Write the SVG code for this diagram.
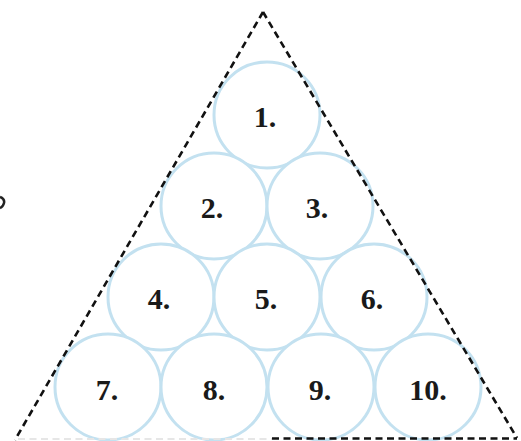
<svg xmlns="http://www.w3.org/2000/svg" width="521" height="441" viewBox="0 0 521 441">
<style>
.c{fill:#fff;stroke:#c3e1f0;stroke-width:3}
.t{font-family:"Liberation Serif","Times New Roman",serif;font-weight:bold;font-size:30px;fill:#1a1a1a;text-anchor:middle}
.d{fill:none;stroke:#111;stroke-width:2.6;stroke-dasharray:7 4.5}
</style>
<rect width="521" height="441" fill="#fff"/>
<g id="n1"><circle class="c" cx="267" cy="115" r="53"/><text class="t" x="265" y="127">1.</text></g>
<g id="n2"><circle class="c" cx="214" cy="206" r="53"/><text class="t" x="212" y="218">2.</text></g>
<g id="n3"><circle class="c" cx="320" cy="206" r="53"/><text class="t" x="317" y="218">3.</text></g>
<g id="n4"><circle class="c" cx="161" cy="297" r="53"/><text class="t" x="159" y="309">4.</text></g>
<g id="n5"><circle class="c" cx="267" cy="297" r="53"/><text class="t" x="266" y="309">5.</text></g>
<g id="n6"><circle class="c" cx="374" cy="297" r="53"/><text class="t" x="372" y="309">6.</text></g>
<g id="n7"><circle class="c" cx="108" cy="387" r="53"/><text class="t" x="107" y="400">7.</text></g>
<g id="n8"><circle class="c" cx="214" cy="387" r="53"/><text class="t" x="214" y="400">8.</text></g>
<g id="n9"><circle class="c" cx="321" cy="387" r="53"/><text class="t" x="320" y="400">9.</text></g>
<g id="n10"><circle class="c" cx="428" cy="387" r="53"/><text class="t" x="428" y="400">10.</text></g>
<g id="connectors">
<path class="d" d="M263 12 L15 440"/>
<path class="d" d="M263 12 L517 438"/>
<path fill="none" stroke="#e6e6e6" stroke-width="2" stroke-dasharray="7 4.5" d="M18 439 L272 439"/>
<path class="d" stroke-width="3" d="M272 438.5 L517 438.5"/>
</g>
<path d="M0 197 Q5 199 4 203 Q3 207 0 208" fill="none" stroke="#222" stroke-width="2.5"/>
</svg>
